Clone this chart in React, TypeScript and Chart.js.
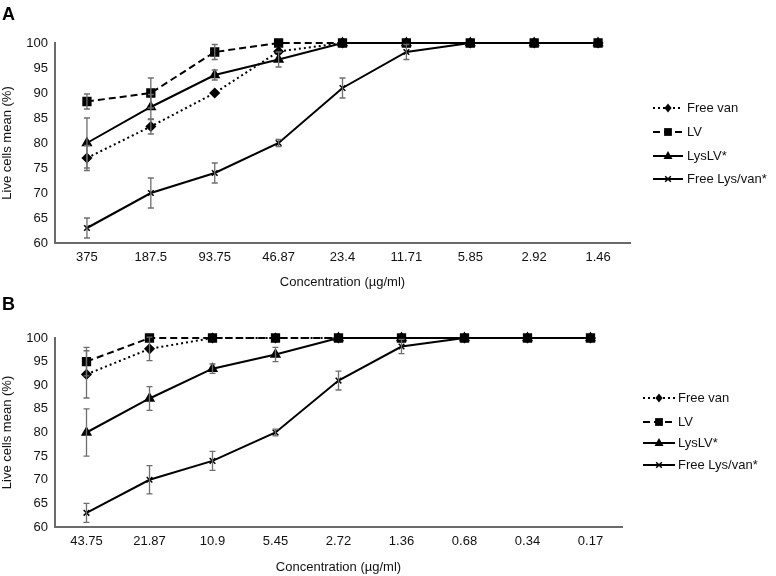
import React, { useEffect, useRef } from "react";
import { Chart, registerables } from "chart.js";

Chart.register(...registerables);

const FONT = "'Liberation Sans', Arial, Helvetica, sans-serif";

const SERIES_NAMES = ["Free van", "LV", "LysLV*", "Free Lys/van*"];

const CATEGORIES_A = ["375", "187.5", "93.75", "46.87", "23.4", "11.71", "5.85", "2.92", "1.46"];
const FREE_VAN_A = [77, 83.3, 90, 98.3, 100, 100, 100, 100, 100];
const FREE_VAN_A_ERR = [2.5, 1.5, 0, 0, 0, 0, 0, 0, 0];
const LV_A = [88.3, 90, 98.2, 100, 100, 100, 100, 100, 100];
const LV_A_ERR = [1.5, 3, 1.5, 0, 0, 0, 0, 0, 0];
const LYSLV_A = [80, 87.2, 93.6, 96.7, 100, 100, 100, 100, 100];
const LYSLV_A_ERR = [5, 2.5, 1, 1.5, 0, 0, 0, 0, 0];
const FREE_LYS_A = [63, 70, 74, 80, 91, 98.2, 100, 100, 100];
const FREE_LYS_A_ERR = [2, 3, 2, 0.7, 2, 1.5, 0, 0, 0];

const CATEGORIES_B = ["43.75", "21.87", "10.9", "5.45", "2.72", "1.36", "0.68", "0.34", "0.17"];
const FREE_VAN_B = [92.3, 97.7, 100, 100, 100, 100, 100, 100, 100];
const FREE_VAN_B_ERR = [5, 2.5, 0, 0, 0, 0, 0, 0, 0];
const LV_B = [95, 100, 100, 100, 100, 100, 100, 100, 100];
const LV_B_ERR = [3, 0, 0, 0, 0, 0, 0, 0, 0];
const LYSLV_B = [80, 87.2, 93.5, 96.5, 100, 100, 100, 100, 100];
const LYSLV_B_ERR = [5, 2.5, 1, 1.5, 0, 0, 0, 0, 0];
const FREE_LYS_B = [63, 70, 74, 80, 91, 98.2, 100, 100, 100];
const FREE_LYS_B_ERR = [2, 3, 2, 0.7, 2, 1.5, 0, 0, 0];

const Y_MIN = 60;
const Y_MAX = 100;
const Y_STEP = 5;

const STYLES = [
  { dash: [2, 3], point: "rectRot", radius: 4.5, order: 1 },
  { dash: [7, 4], point: "rect", radius: 5.5, order: 0 },
  { dash: [], point: "triangle", radius: 5, order: 2 },
  { dash: [], point: "crossRot", radius: 4, order: 3 },
];

function drawMarker(ctx: CanvasRenderingContext2D, type: string, x: number, y: number, r: number) {
  ctx.save();
  ctx.fillStyle = "#000";
  ctx.strokeStyle = "#000";
  ctx.lineWidth = 1.5;
  ctx.setLineDash([]);
  ctx.beginPath();
  if (type === "rect") {
    const s = r * Math.SQRT1_2;
    ctx.rect(x - s, y - s, 2 * s, 2 * s);
    ctx.fill();
  } else if (type === "rectRot") {
    ctx.moveTo(x, y - r);
    ctx.lineTo(x + r * 0.8, y);
    ctx.lineTo(x, y + r);
    ctx.lineTo(x - r * 0.8, y);
    ctx.closePath();
    ctx.fill();
  } else if (type === "triangle") {
    ctx.moveTo(x, y - r);
    ctx.lineTo(x + r * 0.9, y + r * 0.6);
    ctx.lineTo(x - r * 0.9, y + r * 0.6);
    ctx.closePath();
    ctx.fill();
  } else {
    const s = r * Math.SQRT1_2;
    ctx.moveTo(x - s, y - s);
    ctx.lineTo(x + s, y + s);
    ctx.moveTo(x + s, y - s);
    ctx.lineTo(x - s, y + s);
    ctx.stroke();
  }
  ctx.restore();
}

type PanelProps = {
  letter: string;
  height: number;
  categories: string[];
  values: number[][];
  errors: number[][];
  padTop: number;
  padRight: number;
  padBottom: number;
  xAxisHeight: number;
  legendX0: number;
  legendX1: number;
  legendTextX: number;
  legendY: number[];
};

function Panel(props: PanelProps) {
  const ref = useRef<HTMLCanvasElement | null>(null);
  useEffect(() => {
    const canvas = ref.current;
    if (!canvas) return;

    const errorBars = {
      id: "errorBars",
      afterDatasetsDraw(chart: any) {
        const ctx = chart.ctx as CanvasRenderingContext2D;
        const xs = chart.scales.x;
        const ys = chart.scales.y;
        ctx.save();
        ctx.strokeStyle = "#6e6e6e";
        ctx.lineWidth = 1.3;
        ctx.setLineDash([]);
        props.values.forEach((vals, di) => {
          vals.forEach((v, i) => {
            const e = props.errors[di][i];
            if (!e) return;
            const x = xs.getPixelForValue(i);
            const yT = ys.getPixelForValue(v + e);
            const yB = ys.getPixelForValue(v - e);
            ctx.beginPath();
            ctx.moveTo(x, yT);
            ctx.lineTo(x, yB);
            ctx.moveTo(x - 3, yT);
            ctx.lineTo(x + 3, yT);
            ctx.moveTo(x - 3, yB);
            ctx.lineTo(x + 3, yB);
            ctx.stroke();
          });
        });
        ctx.restore();
      },
    };

    const extras = {
      id: "extras",
      afterDraw(chart: any) {
        const ctx = chart.ctx as CanvasRenderingContext2D;
        ctx.save();
        ctx.fillStyle = "#000";
        ctx.font = `bold 18px ${FONT}`;
        ctx.textBaseline = "middle";
        ctx.textAlign = "left";
        ctx.fillText(props.letter, 2, 15);
        SERIES_NAMES.forEach((name, i) => {
          const y = props.legendY[i];
          const st = STYLES[i];
          ctx.save();
          ctx.strokeStyle = "#000";
          ctx.lineWidth = 2;
          ctx.setLineDash(st.dash);
          ctx.beginPath();
          ctx.moveTo(props.legendX0, y);
          ctx.lineTo(props.legendX1, y);
          ctx.stroke();
          ctx.restore();
          drawMarker(ctx, st.point, (props.legendX0 + props.legendX1) / 2, y, st.radius);
          ctx.fillStyle = "#111";
          ctx.font = `13px ${FONT}`;
          ctx.textBaseline = "middle";
          ctx.fillText(name, props.legendTextX, y);
        });
        ctx.restore();
      },
    };

    const chart = new Chart(canvas, {
      type: "line",
      data: {
        labels: props.categories,
        datasets: props.values.map((vals, i) => ({
          label: SERIES_NAMES[i],
          data: vals,
          borderColor: "#000",
          backgroundColor: "#000",
          borderWidth: 2,
          borderDash: STYLES[i].dash,
          pointStyle: STYLES[i].point as any,
          pointRadius: STYLES[i].radius,
          pointBorderWidth: 1.5,
          pointBackgroundColor: "#000",
          pointBorderColor: "#000",
          tension: 0,
          clip: false as any,
          order: STYLES[i].order,
        })),
      },
      options: {
        responsive: false,
        animation: false,
        layout: { padding: { top: props.padTop, right: props.padRight, bottom: props.padBottom, left: 0 } },
        plugins: { legend: { display: false }, tooltip: { enabled: false } },
        scales: {
          x: {
            type: "category",
            offset: true,
            grid: { display: false, drawTicks: false },
            border: { display: true, color: "#6a6a6a", width: 2 },
            ticks: { color: "#111", font: { size: 13, family: FONT }, padding: 7, maxRotation: 0, autoSkip: false },
            title: {
              display: true,
              text: "Concentration (µg/ml)",
              color: "#111",
              font: { size: 13, family: FONT },
              padding: { top: 0, bottom: 0 },
            },
            afterFit: (s: any) => {
              s.height = props.xAxisHeight;
            },
          },
          y: {
            min: Y_MIN,
            max: Y_MAX,
            grid: { display: false, drawTicks: false },
            border: { display: true, color: "#6a6a6a", width: 2 },
            ticks: { stepSize: Y_STEP, color: "#111", font: { size: 13, family: FONT }, padding: 7 },
            title: {
              display: true,
              text: "Live cells mean (%)",
              color: "#111",
              font: { size: 13, family: FONT },
              padding: 0,
            },
            afterFit: (s: any) => {
              s.width = 55;
            },
          },
        },
      },
      plugins: [errorBars, extras],
    });
    return () => chart.destroy();
  }, []);
  return <canvas ref={ref} width={776} height={props.height} style={{ display: "block", width: 776, height: props.height }} />;
}

export default function App() {
  return (
    <div style={{ position: "absolute", left: 0, top: 0, width: 776, height: 576, background: "#fff" }}>
      <Panel
        letter="A"
        height={290}
        categories={CATEGORIES_A}
        values={[FREE_VAN_A, LV_A, LYSLV_A, FREE_LYS_A]}
        errors={[FREE_VAN_A_ERR, LV_A_ERR, LYSLV_A_ERR, FREE_LYS_A_ERR]}
        padTop={43}
        padRight={146}
        padBottom={0}
        xAxisHeight={47}
        legendX0={653}
        legendX1={683}
        legendTextX={687}
        legendY={[108, 132, 156, 179]}
      />
      <Panel
        letter="B"
        height={286}
        categories={CATEGORIES_B}
        values={[FREE_VAN_B, LV_B, LYSLV_B, FREE_LYS_B]}
        errors={[FREE_VAN_B_ERR, LV_B_ERR, LYSLV_B_ERR, FREE_LYS_B_ERR]}
        padTop={48}
        padRight={154}
        padBottom={1}
        xAxisHeight={48}
        legendX0={643}
        legendX1={675}
        legendTextX={678}
        legendY={[108, 132, 153, 175]}
      />
    </div>
  );
}
